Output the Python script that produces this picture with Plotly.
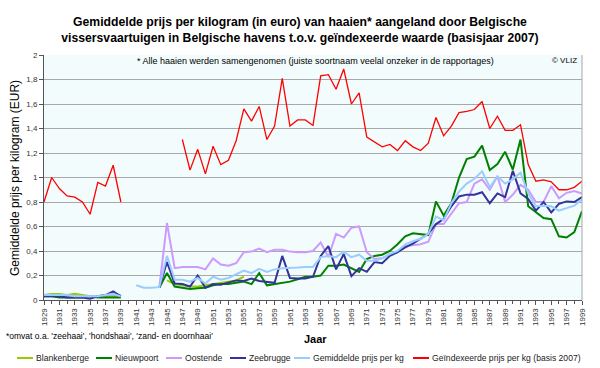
import plotly.graph_objects as go

# ---------------- data ----------------
years = list(range(1929, 2000))
N = None

blankenberge = [0.04, 0.05, 0.05, 0.04, 0.05, 0.04, 0.03, 0.03, 0.03, 0.03, 0.03,
                N, N, N, N, N,
                0.16, 0.13, 0.12, 0.11, 0.11, 0.12, 0.13, 0.14, 0.15, 0.16, 0.19] + [N] * 44

nieuwpoort = [0.03, 0.03, 0.02, 0.02, 0.02, 0.02, 0.03, 0.02, 0.02, 0.02, 0.02,
              N, N, N, N,
              0.10, 0.22, 0.11, 0.10, 0.09, 0.095, 0.10, 0.12, 0.13, 0.13, 0.14,
              0.15, 0.13, 0.22, 0.12, 0.13, 0.14, 0.15, 0.17, 0.19, 0.19,
              0.20, 0.28, 0.28, 0.29, 0.26, 0.23, 0.335, 0.36, 0.37, 0.40,
              0.455, 0.52, 0.545, 0.54, 0.53, 0.805, 0.69, 0.79, 1.00, 1.15,
              1.17, 1.26, 1.06, 1.11, 1.21, 1.065, 1.31, 0.765, 0.72, 0.67,
              0.66, 0.52, 0.51, 0.555, 0.725]

oostende = [0.04, 0.04, 0.04, 0.04, 0.03, 0.03, 0.03, 0.03, 0.04, 0.04, 0.04,
            N, N, N, N,
            0.10, 0.63, 0.26, 0.27, 0.27, 0.27, 0.25, 0.34, 0.29, 0.28, 0.30,
            0.39, 0.395, 0.42, 0.39, 0.41, 0.41, 0.395, 0.39, 0.39, 0.40,
            0.47, 0.35, 0.54, 0.51, 0.59, 0.60, 0.39, 0.335, 0.34, 0.375,
            0.39, 0.44, 0.45, 0.455, 0.475, 0.62, 0.62, 0.70, 0.79, 0.80,
            0.95, 0.985, 0.90, 1.01, 0.80, 0.86, 0.94, 0.90, 0.80, 0.80,
            0.93, 0.83, 0.875, 0.89, 0.87]

zeebrugge = [0.03, 0.03, 0.03, 0.02, 0.02, 0.02, 0.01, 0.03, 0.04, 0.07, 0.03,
             N, N, N, N,
             0.10, 0.31, 0.135, 0.13, 0.11, 0.20, 0.10, 0.13, 0.125, 0.14, 0.16,
             0.155, 0.175, 0.155, 0.15, 0.14, 0.36, 0.18, 0.175, 0.175, 0.19,
             0.36, 0.44, 0.25, 0.375, 0.195, 0.26, 0.23, 0.31, 0.30, 0.36,
             0.39, 0.43, 0.46, 0.50, 0.54, 0.62, 0.66, 0.765, 0.845, 0.86,
             0.86, 0.88, 0.79, 0.87, 0.84, 1.055, 0.87, 0.825, 0.73, 0.80,
             0.715, 0.785, 0.805, 0.80, 0.84]

gemiddelde = [0.04, 0.04, 0.04, 0.04, 0.03, 0.03, 0.03, 0.03, 0.04, 0.05, 0.03,
              N, 0.12, 0.10, 0.10,
              0.105, 0.36, 0.165, 0.165, 0.15, 0.18, 0.135, 0.19, 0.165, 0.18, 0.21,
              0.24, 0.22, 0.255, 0.23, 0.25, 0.26, 0.26, 0.265, 0.27, 0.27,
              0.35, 0.36, 0.35, 0.395, 0.35, 0.37, 0.32, 0.32, 0.34, 0.375,
              0.40, 0.455, 0.48, 0.50, 0.54, 0.68, 0.65, 0.79, 0.885, 0.95,
              0.99, 1.05, 0.92, 1.01, 0.95, 0.985, 1.04, 0.87, 0.765, 0.77,
              0.765, 0.73, 0.75, 0.77, 0.82]

geindexeerd = [0.80, 1.00, 0.91, 0.85, 0.84, 0.80, 0.70, 0.96, 0.93, 1.10, 0.80,
               N, N, N, N, N, N, N,
               1.31, 1.06, 1.23, 1.03, 1.255, 1.105, 1.14, 1.30, 1.56, 1.46,
               1.58, 1.31, 1.42, 1.81, 1.42, 1.47, 1.47, 1.425, 1.83, 1.84,
               1.72, 1.885, 1.60, 1.69, 1.33, 1.29, 1.25, 1.27, 1.22, 1.30,
               1.25, 1.22, 1.28, 1.49, 1.34, 1.42, 1.53, 1.54, 1.555, 1.62,
               1.40, 1.50, 1.385, 1.385, 1.43, 1.105, 0.97, 0.98, 0.965, 0.90,
               0.90, 0.92, 0.97]

series_names = ["Blankenberge", "Nieuwpoort", "Oostende", "Zeebrugge",
                "Gemiddelde prijs per kg", "Geïndexeerde prijs per kg (basis 2007)"]
series_values = [blankenberge, nieuwpoort, oostende, zeebrugge, gemiddelde, geindexeerd]
series_colors = ["#99CC00", "#008000", "#CC99FF", "#333399", "#99CCFF", "#FF0000"]
series_widths = [2, 2, 2, 2, 2, 1.3]

tick_years = years[::2]
tick_labels = [str(y) for y in tick_years]

title_text = ("<b>Gemiddelde prijs per kilogram (in euro) van haaien* aangeland door Belgische<br>"
              "vissersvaartuigen in Belgische havens t.o.v. geïndexeerde waarde (basisjaar 2007)</b>")
note_text = "* Alle haaien werden samengenomen (juiste soortnaam veelal onzeker in de rapportages)"
footnote_text = "*omvat o.a. 'zeehaai', 'hondshaai', 'zand- en doornhaai'"

# ---------------- figure ----------------
FONT = "Liberation Sans"
W, H = 600, 368
ML, MR, MT, MB = 44, 18, 55, 68
PW, PH = W - ML - MR, H - MT - MB


def px_x(px):
    return (px - ML) / PW


def px_y(py):
    return (H - MB - py) / PH


fig = go.Figure()
for name, vals, col, lw in zip(series_names, series_values, series_colors, series_widths):
    fig.add_trace(go.Scatter(x=years, y=vals, mode="lines", name=name,
                             line=dict(color=col, width=lw), connectgaps=False,
                             showlegend=False))

fig.update_layout(
    width=W, height=H,
    margin=dict(l=ML, r=MR, t=MT, b=MB),
    paper_bgcolor="white",
    plot_bgcolor="#F3FCFC",
    separators=",.",
    font=dict(family=FONT, size=9, color="#222222"),
    title=dict(text=title_text, x=0.5, xref="container", xanchor="center",
               y=1 - 26 / H, yref="container", yanchor="middle",
               font=dict(family=FONT, size=12.2, color="#000000")),
)

fig.update_xaxes(range=[1929, 1999], tickvals=tick_years, ticktext=tick_labels,
                 tickangle=-90, ticks="outside", ticklen=4, tickcolor="#555555",
                 minor=dict(ticks="outside", dtick=1, ticklen=3, tickcolor="#555555", showgrid=False),
                 showline=True, linecolor="#555555", linewidth=1,
                 showgrid=False, zeroline=False,
                 tickfont=dict(size=8, color="#333333"))
fig.update_yaxes(range=[0, 2], dtick=0.2, tick0=0, showgrid=True, gridcolor="#A8A8A8",
                 gridwidth=1, ticks="outside", ticklen=4, tickcolor="#555555",
                 showline=True, linecolor="#555555", linewidth=1, zeroline=False,
                 tickfont=dict(size=8, color="#333333"))

annotations = [
    dict(text="Gemiddelde prijs per kilogram (EUR)", x=px_x(15), y=px_y(178), xref="paper",
         yref="paper", textangle=-90, showarrow=False, xanchor="center", yanchor="middle",
         font=dict(size=12, color="#000000")),
    dict(text="<b>Jaar</b>", x=px_x(315), y=px_y(339), xref="paper", yref="paper",
         showarrow=False, xanchor="center", yanchor="middle", font=dict(size=11, color="#000000")),
    dict(text=note_text, x=px_x(315), y=px_y(61), xref="paper", yref="paper",
         showarrow=False, xanchor="center", yanchor="middle", font=dict(size=9, color="#000000")),
    dict(text="© VLIZ", x=px_x(579), y=px_y(61), xref="paper", yref="paper",
         showarrow=False, xanchor="right", yanchor="middle", font=dict(size=8, color="#000000")),
    dict(text=footnote_text, x=px_x(4), y=px_y(336), xref="paper", yref="paper",
         showarrow=False, xanchor="left", yanchor="middle", font=dict(size=8.5, color="#000000")),
]

shapes = [dict(type="line", xref="paper", yref="paper", x0=1, x1=1, y0=0, y1=1,
               line=dict(color="#A8A8A8", width=1))]

# legend drawn manually (compact, single row as in the reference)
legend_item_x = [17, 96, 166, 230, 294, 413]
LEG_Y = 358
SW = 16
for name, col, lx in zip(series_names, series_colors, legend_item_x):
    shapes.append(dict(type="line", xref="paper", yref="paper",
                       x0=px_x(lx), x1=px_x(lx + SW), y0=px_y(LEG_Y), y1=px_y(LEG_Y),
                       line=dict(color=col, width=2)))
    annotations.append(dict(text=name, x=px_x(lx + SW + 1), y=px_y(LEG_Y), xref="paper",
                            yref="paper", showarrow=False, xanchor="left", yanchor="middle",
                            font=dict(size=8.6, color="#222222")))

fig.update_layout(annotations=annotations, shapes=shapes)

fig.write_html("out.html", post_script="document.body.style.margin='0';",
               config={"displayModeBar": False})
